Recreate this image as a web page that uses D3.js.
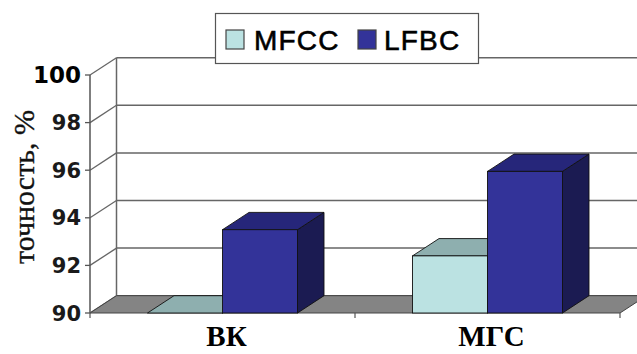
<!DOCTYPE html>
<html>
<head>
<meta charset="utf-8">
<script src="https://cdn.jsdelivr.net/npm/d3@7"></script>
<style>
  html, body { margin: 0; padding: 0; background: #fff; }
  svg { display: block; }
</style>
</head>
<body>
<svg id="chart" width="637" height="354"></svg>
<script>
// Accuracy (%) of two feature sets on two datasets
const categories = ["ВК", "МГС"];
const series = ["MFCC", "LFBC"];
const mfccValues = [90.0, 92.4];
const lfbcValues = [93.5, 95.95];
const yTicks = [90, 92, 94, 96, 98, 100];
const yTitle = "точность, %";

const values = { MFCC: mfccValues, LFBC: lfbcValues };

// Face colours per series: front, top, side
const palette = {
  MFCC: { front: "#bbe2e2", top: "#8eafaf", side: "#6f8c8c", swatch: "#bbe2e2" },
  LFBC: { front: "#333399", top: "#26267a", side: "#1b1b52", swatch: "#333399" }
};

const svg = d3.select("#chart");

// Front plane of the plot and the depth offset of the 3D box
const plot = { left: 90, right: 620, top: 75, bottom: 313 };
const depth = { dx: 26.5, dy: -17.3 };

const y = d3.scaleLinear().domain([90, 100]).range([plot.bottom, plot.top]);
const x = d3.scaleBand().domain(categories).range([plot.left, plot.right]);
const clusterWidth = 150;
const xs = d3.scaleBand().domain(series).range([0, clusterWidth]);

const gridColor = "#666";

// Back wall gridlines
const g = svg.append("g");
g.selectAll("line.grid")
  .data(yTicks)
  .join("line")
  .attr("class", "grid")
  .attr("x1", plot.left + depth.dx)
  .attr("x2", plot.right + depth.dx + 40)
  .attr("y1", d => y(d) + depth.dy)
  .attr("y2", d => y(d) + depth.dy)
  .attr("stroke", gridColor)
  .attr("stroke-width", 1.5);

// Left wall: back edge and diagonals at each tick
g.append("line")
  .attr("x1", plot.left + depth.dx).attr("x2", plot.left + depth.dx)
  .attr("y1", y(100) + depth.dy).attr("y2", y(90) + depth.dy)
  .attr("stroke", gridColor).attr("stroke-width", 1.5);

g.selectAll("line.diag")
  .data(yTicks)
  .join("line")
  .attr("class", "diag")
  .attr("x1", plot.left).attr("y1", d => y(d))
  .attr("x2", plot.left + depth.dx).attr("y2", d => y(d) + depth.dy)
  .attr("stroke", gridColor).attr("stroke-width", 1.3);

// Floor
const y0 = y(90);
g.append("path")
  .attr("d", d3.line()([
    [plot.left, y0], [plot.right, y0],
    [plot.right + depth.dx, y0 + depth.dy], [plot.left + depth.dx, y0 + depth.dy]
  ]) + "Z")
  .attr("fill", "#848484")
  .attr("stroke", "#444")
  .attr("stroke-width", 1);

// Front value axis
g.append("line")
  .attr("x1", plot.left).attr("x2", plot.left)
  .attr("y1", y(100)).attr("y2", y(90))
  .attr("stroke", "#555").attr("stroke-width", 1.5);

g.selectAll("line.ytick")
  .data(yTicks)
  .join("line")
  .attr("class", "ytick")
  .attr("x1", plot.left - 5).attr("x2", plot.left)
  .attr("y1", d => y(d)).attr("y2", d => y(d))
  .attr("stroke", "#555").attr("stroke-width", 1.3);

g.selectAll("text.ylab")
  .data(yTicks)
  .join("text")
  .attr("class", "ylab")
  .attr("x", plot.left - 9)
  .attr("y", d => y(d))
  .attr("dy", "0.36em")
  .attr("text-anchor", "end")
  .attr("font-family", "DejaVu Sans, sans-serif")
  .attr("font-weight", "bold")
  .attr("font-size", d => d === 100 ? 23 : 21)
  .attr("fill", d => d === 100 ? "#000" : "#1a1a1a")
  .text(d => d);

// Category ticks along the front floor edge
const catEdges = [plot.left, ...categories.map(c => x(c) + x.bandwidth())];
g.selectAll("line.xtick")
  .data(catEdges)
  .join("line")
  .attr("class", "xtick")
  .attr("x1", d => d).attr("x2", d => d)
  .attr("y1", y0).attr("y2", y0 + 5)
  .attr("stroke", "#555").attr("stroke-width", 1.2);

// Bars (drawn left to right so nearer faces overlap correctly)
const bars = [];
categories.forEach((c, i) => {
  series.forEach(s => {
    bars.push({ cat: c, s, v: values[s][i] });
  });
});

const barG = svg.append("g");
const offset = (x.bandwidth() - clusterWidth) / 2;
bars.forEach(b => {
  const bx = x(b.cat) + offset + xs(b.s);
  const w = xs.bandwidth();
  const yv = y(b.v);
  const col = palette[b.s];
  const stroke = "#111";
  const sw = 0.9;
  // side face
  barG.append("path")
    .attr("d", d3.line()([
      [bx + w, yv], [bx + w + depth.dx, yv + depth.dy],
      [bx + w + depth.dx, y0 + depth.dy], [bx + w, y0]
    ]) + "Z")
    .attr("fill", col.side).attr("stroke", stroke).attr("stroke-width", sw)
    .attr("stroke-linejoin", "round");
  // top face
  barG.append("path")
    .attr("d", d3.line()([
      [bx, yv], [bx + w, yv],
      [bx + w + depth.dx, yv + depth.dy], [bx + depth.dx, yv + depth.dy]
    ]) + "Z")
    .attr("fill", col.top).attr("stroke", stroke).attr("stroke-width", sw)
    .attr("stroke-linejoin", "round");
  // front face
  barG.append("rect")
    .attr("x", bx).attr("y", yv)
    .attr("width", w).attr("height", Math.max(0, y0 - yv))
    .attr("fill", col.front).attr("stroke", stroke).attr("stroke-width", sw);
});

// Category labels
svg.selectAll("text.xlab")
  .data(categories)
  .join("text")
  .attr("class", "xlab")
  .attr("x", d => x(d) + x.bandwidth() / 2 + 4)
  .attr("y", 346)
  .attr("text-anchor", "middle")
  .attr("font-family", "Liberation Serif, Times New Roman, serif")
  .attr("font-weight", "bold")
  .attr("font-size", 29)
  .attr("fill", "#000")
  .text(d => d);

// Value axis title
svg.append("text")
  .attr("transform", `translate(34, ${187}) rotate(-90)`)
  .attr("text-anchor", "middle")
  .attr("font-family", "Liberation Serif, Times New Roman, serif")
  .attr("font-size", 30)
  .attr("fill", "#111")
  .attr("stroke", "#111")
  .attr("stroke-width", 0.35)
  .text(yTitle);

// Legend
const legend = svg.append("g");
legend.append("rect")
  .attr("x", 215.5).attr("y", 13.5).attr("width", 263).attr("height", 50)
  .attr("fill", "#fff").attr("stroke", "#555").attr("stroke-width", 1.2);

const legendItems = [
  { s: "MFCC", sx: 226, tx: 254 },
  { s: "LFBC", sx: 358, tx: 384 }
];
legendItems.forEach(it => {
  legend.append("rect")
    .attr("x", it.sx).attr("y", 30).attr("width", 18).attr("height", 19)
    .attr("fill", palette[it.s].swatch).attr("stroke", "#444").attr("stroke-width", 1.2);
  legend.append("text")
    .attr("x", it.tx).attr("y", 50)
    .attr("font-family", "Liberation Sans, Arial, sans-serif")
    .attr("font-size", 28)
    .attr("letter-spacing", 1.2)
    .attr("fill", "#000")
    .attr("stroke", "#000")
    .attr("stroke-width", 0.6)
    .text(it.s);
});
</script>
</body>
</html>
